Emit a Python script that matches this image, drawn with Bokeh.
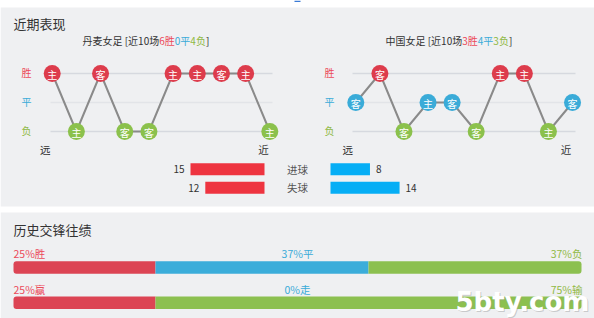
from bokeh.plotting import figure
from bokeh.models import Range1d
from bokeh.embed import file_html
from bokeh.resources import INLINE
from bokeh.core.properties import value

# ---------------- data ----------------
section_titles = ["近期表现", "历史交锋往绩"]
team_names = ["丹麦女足", "中国女足"]
dk_results = ["W", "L", "W", "L", "L", "W", "W", "W", "W", "L"]
dk_venues = ["主", "主", "客", "客", "客", "主", "主", "客", "主", "主"]
cn_results = ["D", "W", "L", "D", "D", "L", "W", "W", "L", "D"]
cn_venues = ["客", "客", "客", "主", "客", "客", "主", "主", "主", "客"]
result_names = ["胜", "平", "负"]
result_codes = ["W", "D", "L"]
far_near = ["远", "近"]
goal_labels = ["进球", "失球"]
dk_goals = [15, 12]      # scored, conceded
cn_goals = [8, 14]
h2h_counts = [2, 3, 3]
h2h_names = ["胜", "平", "负"]
odds_counts = [2, 0, 6]
odds_names = ["赢", "走", "输"]
watermark = "5bty.com"

# ---------------- style / layout ----------------
W, H = 594, 318
FONT = "Noto Sans CJK SC"
BG = "#eff0f2"
DARK = "#333333"
RED, BLUE, GREEN = "#dd3c4c", "#3aabd8", "#8bc14c"
TXT_RED, TXT_BLUE, TXT_GREEN = "#ec4a5a", "#3aabd8", "#8fb944"
res_color = {"W": RED, "D": BLUE, "L": GREEN}
res_txt_color = {"W": TXT_RED, "D": TXT_BLUE, "L": TXT_GREEN}

p = figure(width=W, height=H, x_range=Range1d(0, W), y_range=Range1d(H, 0),
           output_backend="svg", toolbar_location=None, min_border=0,
           x_axis_location=None, y_axis_location=None)
p.grid.visible = False
p.outline_line_color = None
p.background_fill_color = "white"
p.border_fill_color = "white"


def txt(x, y, s, color, size, align="left", font=FONT, style="normal", alpha=1.0):
    p.text(x=[x], y=[y], text=[s], text_color=color, text_font=value(font),
           text_font_size=f"{size}px", text_align=align, text_baseline="middle",
           text_font_style=style, text_alpha=alpha)


def tw(s, size):
    w = 0.0
    for ch in s:
        if ord(ch) > 0x2E80:
            w += 1.0
        elif ch.isdigit():
            w += 0.555
        elif ch == " ":
            w += 0.224
        elif ch in "[]":
            w += 0.34
        else:
            w += 0.55
    return w * size


# panels
p.quad(left=[0, 0], right=[W, W], top=[7, 212], bottom=[206, H], fill_color=BG, line_color=None)
p.quad(left=[294], right=[300], top=[0], bottom=[1.5], fill_color="#3b7bd6", line_color=None)

# section titles
txt(13, 22.5, section_titles[0], DARK, 13)
txt(13, 228.5, section_titles[1], DARK, 13)


# ---------------- recent form charts ----------------
def form_chart(name, results, venues, x0, step, sub_x, lab_x, grid_l, grid_r, far_x, near_x):
    levels = [73, 102, 131]
    ylev = dict(zip(result_codes, levels))
    for i, lv in enumerate(levels):
        p.line([grid_l, grid_r], [lv, lv], line_color="#d6d9df" if i != 1 else "#e2e4e8", line_width=1.5)
    for code, nm, lv in zip(result_codes, result_names, levels):
        txt(lab_x, lv - 1, nm, res_txt_color[code], 10, align="center")
    w = sum(1 for r in results if r == "W")
    d = sum(1 for r in results if r == "D")
    l = sum(1 for r in results if r == "L")
    segs = [(f"{name} [近{len(results)}场", DARK), (f"{w}胜", TXT_RED), (f"{d}平", TXT_BLUE),
            (f"{l}负", TXT_GREEN), ("]", DARK)]
    x = sub_x
    for s, c in segs:
        txt(x, 39.5, s, c, 10)
        x += tw(s, 10)
    xs = [x0 + i * step for i in range(len(results))]
    ys = [ylev[r] for r in results]
    p.line(xs, ys, line_color="#8a8a8a", line_width=2)
    p.scatter(xs, ys, size=17, fill_color=[res_color[r] for r in results], line_color=None)
    p.text(x=xs, y=[y + 0.5 for y in ys], text=venues, text_color="white", text_font=value(FONT),
           text_font_size="10px", text_align="center", text_baseline="middle")
    txt(far_x, 148.5, far_near[0], DARK, 10.5, align="center")
    txt(near_x, 148.5, far_near[1], DARK, 10.5, align="center")


form_chart(team_names[0], dk_results, dk_venues, 51.7, 24.18, 82, 26, 50, 272, 44.7, 263)
form_chart(team_names[1], cn_results, cn_venues, 355.3, 24.08, 385, 329, 352, 575, 347.3, 565.5)

# ---------------- goals bars ----------------
gmax = max(dk_goals + cn_goals)
gscale = 74.0 / gmax
rows_y = [168.7, 187.3]
mid_r, mid_l = 264, 330
p.hbar(y=rows_y, left=[mid_r - v * gscale for v in dk_goals], right=mid_r, height=12,
       fill_color="#ee3440", line_color=None)
p.hbar(y=rows_y, left=mid_l, right=[mid_l + v * gscale for v in cn_goals], height=12,
       fill_color="#06aef5", line_color=None)
for y, v1, v2, lab in zip(rows_y, dk_goals, cn_goals, goal_labels):
    txt(mid_r - v1 * gscale - 6, y, str(v1), DARK, 10, align="right")
    txt(mid_l + v2 * gscale + 6, y, str(v2), DARK, 10, align="left")
    txt(297, y, lab, "#555555", 10.5, align="center")

# ---------------- head-to-head bars ----------------
BX0, BX1 = 13, 581


def stack_bar(counts, names, y_bar, y_lab, colors):
    total = sum(counts)
    pct = [int(100 * c / total) for c in counts]
    cum = BX0
    nz = [i for i, c in enumerate(counts) if c > 0]
    for i, c in enumerate(counts):
        if c == 0:
            continue
        wpx = (BX1 - BX0) * c / total
        tl = 3 if i == nz[0] else 0
        tr = 3 if i == nz[-1] else 0
        p.hbar(y=[y_bar], left=[cum], right=[cum + wpx], height=12.5, fill_color=colors[i],
               line_color=None, border_radius=(tl, tr, tr, tl))
        cum += wpx
    txt(BX0, y_lab, f"{pct[0]}%{names[0]}", TXT_RED, 10.5, align="left")
    txt(297, y_lab, f"{pct[1]}%{names[1]}", TXT_BLUE, 10.5, align="center")
    txt(BX1 + 1, y_lab, f"{pct[2]}%{names[2]}", TXT_GREEN, 10.5, align="right")


stack_bar(h2h_counts, h2h_names, 267, 252.5, ["#dc4454", "#3badda", "#8cc050"])
stack_bar(odds_counts, odds_names, 302.2, 288.5, ["#dc4454", "#3badda", "#8cc050"])

# watermark
txt(456, 302, watermark, "#9a9a9a", 26, font="DejaVu Sans", style="bold", alpha=0.45)
txt(455, 301, watermark, "white", 26, font="DejaVu Sans", style="bold")

open("out.html", "w").write(file_html(p, INLINE))
